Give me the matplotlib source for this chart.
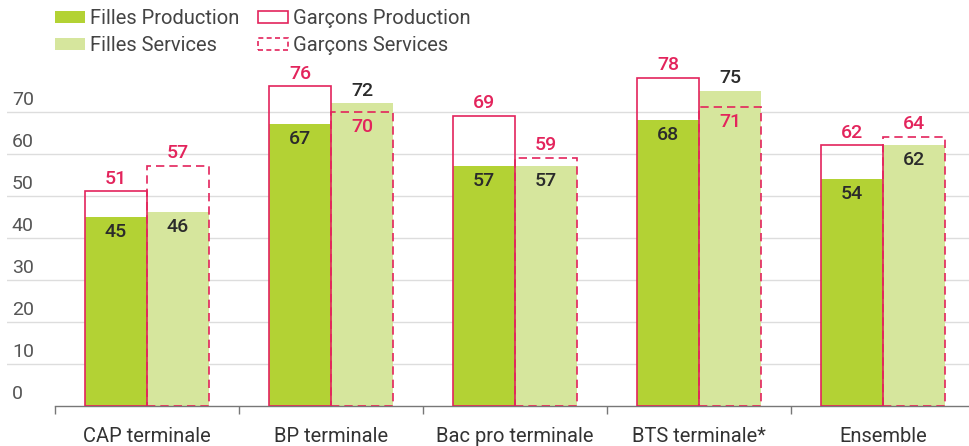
import matplotlib
matplotlib.use("Agg")
import matplotlib.pyplot as plt
from matplotlib.patches import Patch

plt.rcParams['font.family'] = ['Roboto', 'DejaVu Sans']

categories = ["CAP terminale", "BP terminale", "Bac pro terminale", "BTS terminale*", "Ensemble"]
filles_prod = [45, 67, 57, 68, 54]
garcons_prod = [51, 76, 69, 78, 62]
filles_serv = [46, 72, 57, 75, 62]
garcons_serv = [57, 70, 59, 71, 64]
yticks = [0, 10, 20, 30, 40, 50, 60, 70]

GREEN = "#b3d234"
LIGHT = "#d6e69d"
RED = "#e3245c"
DARK = "#2b2b2b"
GREY = "#555555"

W, H = 970, 446
fig = plt.figure(figsize=(W / 100, H / 100), dpi=100)
ax = fig.add_axes([7 / W, 40.5 / H, 963 / W, 405.5 / H])

xmin = -0.5 - 48 / 184
ax.set_xlim(xmin, xmin + 963 / 184)
ax.set_ylim(0, 405.5 / 4.2)

for s in ["top", "right", "left"]:
    ax.spines[s].set_visible(False)
ax.spines["bottom"].set_color("#777777")
ax.spines["bottom"].set_linewidth(1.0)
ax.spines["bottom"].set_bounds(-0.5, xmin + 963 / 184)

# category separators as ticks, names as text below
ax.set_xticks([i - 0.5 for i in range(len(categories))])
ax.set_xticklabels([])
ax.tick_params(axis="x", length=6, color="#777777", width=1.0, direction="out")
ax.set_yticks([])

for v in yticks:
    if v > 0:
        ax.axhline(v, color="#dddddd", lw=1.0, zorder=0)
    ax.text(0.005, v + 0.5, str(v), transform=ax.get_yaxis_transform(),
            ha="left", va="bottom", fontsize=14, color=GREY)

for i, name in enumerate(categories):
    ax.text(i, -7.5, name, ha="center", va="center", fontsize=14.5, color="#333333")

bw = 0.337
xs = list(range(len(categories)))
xp = [x - bw / 2 for x in xs]
xsv = [x + bw / 2 for x in xs]

ax.bar(xp, filles_prod, width=bw, color=GREEN, zorder=2)
ax.bar(xsv, filles_serv, width=bw, color=LIGHT, zorder=2)
ax.bar(xp, garcons_prod, width=bw, fill=False, edgecolor=RED, lw=1.2, zorder=3)
ax.bar(xsv, garcons_serv, width=bw, fill=False, edgecolor=RED, lw=1.2,
       linestyle=(0, (5, 3)), zorder=3)

lab = dict(ha="center", va="center", fontsize=14, fontweight="medium", zorder=4)
for x, f, g in list(zip(xp, filles_prod, garcons_prod)) + list(zip(xsv, filles_serv, garcons_serv)):
    if g > f:
        ax.text(x, g + 3.0, str(g), color=RED, **lab)
        ax.text(x, f - 3.6, str(f), color=DARK, **lab)
    else:
        ax.text(x, f + 3.0, str(f), color=DARK, **lab)
        ax.text(x, g - 3.6, str(g), color=RED, **lab)

handles = [
    Patch(facecolor=GREEN, edgecolor="none"),
    Patch(facecolor=LIGHT, edgecolor="none"),
    Patch(facecolor="white", edgecolor=RED, lw=1.2),
    Patch(facecolor="white", edgecolor=RED, lw=1.2, linestyle=(0, (3, 2))),
]
labels = ["Filles Production", "Filles Services", "Garçons Production", "Garçons Services"]
fig.legend(handles, labels, ncol=2, frameon=False, loc="upper left",
           bbox_to_anchor=(55 / W, 1 - 9 / H), borderaxespad=0, borderpad=0,
           fontsize=14.5, handlelength=1.5, handleheight=0.5, handletextpad=0.25,
           columnspacing=0.9, labelspacing=0.4, labelcolor="#444444")

fig.savefig("out.png", dpi=100)
